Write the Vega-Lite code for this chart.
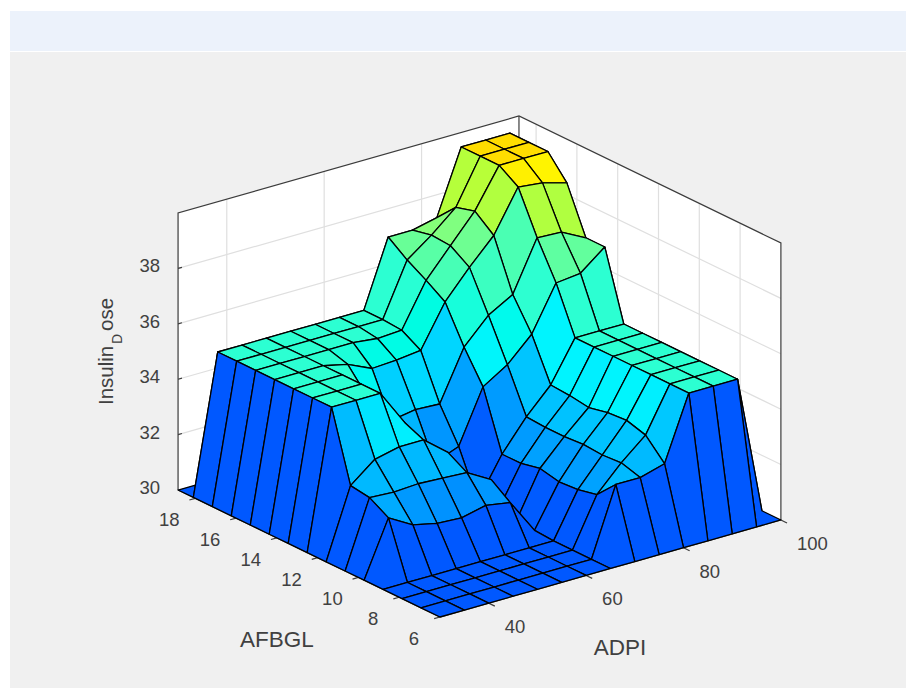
{"$schema":"https://vega.github.io/schema/vega-lite/v6.json","width":906,"height":688,"padding":0,"autosize":{"type":"fit","contains":"padding"},"background":"#ffffff","config":{"view":{"stroke":null},"axis":{"domain":false}},
"datasets":{
"grid":[
{"key":1414,"ADPI":100,"AFBGL":18.84,"Dose":30},{"key":1413,"ADPI":100,"AFBGL":18.09,"Dose":30},{"key":1412,"ADPI":100,"AFBGL":17.16,"Dose":30},{"key":1411,"ADPI":100,"AFBGL":16.23,"Dose":30},{"key":1410,"ADPI":100,"AFBGL":15.3,"Dose":30},{"key":1409,"ADPI":100,"AFBGL":14.37,"Dose":30},{"key":1408,"ADPI":100,"AFBGL":13.44,"Dose":30},{"key":1407,"ADPI":100,"AFBGL":12.51,"Dose":30},{"key":1406,"ADPI":100,"AFBGL":11.58,"Dose":30},{"key":1405,"ADPI":100,"AFBGL":10.65,"Dose":30},{"key":1404,"ADPI":100,"AFBGL":9.72,"Dose":30},{"key":1403,"ADPI":100,"AFBGL":8.79,"Dose":30},{"key":1402,"ADPI":100,"AFBGL":7.86,"Dose":30},{"key":1401,"ADPI":100,"AFBGL":6.93,"Dose":30},{"key":1400,"ADPI":100,"AFBGL":6,"Dose":30},
{"key":1314,"ADPI":95,"AFBGL":18.84,"Dose":30},{"key":1313,"ADPI":95,"AFBGL":18.09,"Dose":39.9},{"key":1312,"ADPI":95,"AFBGL":17.16,"Dose":39.9},{"key":1311,"ADPI":95,"AFBGL":16.23,"Dose":39.9},{"key":1310,"ADPI":95,"AFBGL":15.3,"Dose":39.1},{"key":1309,"ADPI":95,"AFBGL":14.37,"Dose":37.45},{"key":1308,"ADPI":95,"AFBGL":13.44,"Dose":37.45},{"key":1307,"ADPI":95,"AFBGL":12.51,"Dose":35},{"key":1306,"ADPI":95,"AFBGL":11.58,"Dose":35},{"key":1305,"ADPI":95,"AFBGL":10.65,"Dose":35},{"key":1304,"ADPI":95,"AFBGL":9.72,"Dose":35},{"key":1303,"ADPI":95,"AFBGL":8.79,"Dose":35},{"key":1302,"ADPI":95,"AFBGL":7.86,"Dose":35},{"key":1301,"ADPI":95,"AFBGL":6.93,"Dose":35},{"key":1300,"ADPI":95,"AFBGL":6,"Dose":30},
{"key":1214,"ADPI":90,"AFBGL":18.84,"Dose":30},{"key":1213,"ADPI":90,"AFBGL":18.09,"Dose":39.9},{"key":1212,"ADPI":90,"AFBGL":17.16,"Dose":39.9},{"key":1211,"ADPI":90,"AFBGL":16.23,"Dose":39.9},{"key":1210,"ADPI":90,"AFBGL":15.3,"Dose":39.35},{"key":1209,"ADPI":90,"AFBGL":14.37,"Dose":37.9},{"key":1208,"ADPI":90,"AFBGL":13.44,"Dose":36.75},{"key":1207,"ADPI":90,"AFBGL":12.51,"Dose":35},{"key":1206,"ADPI":90,"AFBGL":11.58,"Dose":35},{"key":1205,"ADPI":90,"AFBGL":10.65,"Dose":35},{"key":1204,"ADPI":90,"AFBGL":9.72,"Dose":35},{"key":1203,"ADPI":90,"AFBGL":8.79,"Dose":35},{"key":1202,"ADPI":90,"AFBGL":7.86,"Dose":35},{"key":1201,"ADPI":90,"AFBGL":6.93,"Dose":35},{"key":1200,"ADPI":90,"AFBGL":6,"Dose":30},
{"key":1114,"ADPI":85,"AFBGL":18.84,"Dose":30},{"key":1113,"ADPI":85,"AFBGL":18.09,"Dose":39.9},{"key":1112,"ADPI":85,"AFBGL":17.16,"Dose":39.9},{"key":1111,"ADPI":85,"AFBGL":16.23,"Dose":39.9},{"key":1110,"ADPI":85,"AFBGL":15.3,"Dose":39.45},{"key":1109,"ADPI":85,"AFBGL":14.37,"Dose":37.95},{"key":1108,"ADPI":85,"AFBGL":13.44,"Dose":36.65},{"key":1107,"ADPI":85,"AFBGL":12.51,"Dose":35},{"key":1106,"ADPI":85,"AFBGL":11.58,"Dose":35},{"key":1105,"ADPI":85,"AFBGL":10.65,"Dose":35},{"key":1104,"ADPI":85,"AFBGL":9.72,"Dose":35},{"key":1103,"ADPI":85,"AFBGL":8.79,"Dose":35},{"key":1102,"ADPI":85,"AFBGL":7.86,"Dose":35},{"key":1101,"ADPI":85,"AFBGL":6.93,"Dose":35},{"key":1100,"ADPI":85,"AFBGL":6,"Dose":30},
{"key":1014,"ADPI":80,"AFBGL":18.84,"Dose":30},{"key":1013,"ADPI":80,"AFBGL":18.09,"Dose":37.6},{"key":1012,"ADPI":80,"AFBGL":17.16,"Dose":38.3},{"key":1011,"ADPI":80,"AFBGL":16.23,"Dose":38.5},{"key":1010,"ADPI":80,"AFBGL":15.3,"Dose":37.95},{"key":1009,"ADPI":80,"AFBGL":14.37,"Dose":36.15},{"key":1008,"ADPI":80,"AFBGL":13.44,"Dose":35.05},{"key":1007,"ADPI":80,"AFBGL":12.51,"Dose":33.55},{"key":1006,"ADPI":80,"AFBGL":11.58,"Dose":33.5},{"key":1005,"ADPI":80,"AFBGL":10.65,"Dose":33.4},{"key":1004,"ADPI":80,"AFBGL":9.72,"Dose":33.55},{"key":1003,"ADPI":80,"AFBGL":8.79,"Dose":33.6},{"key":1002,"ADPI":80,"AFBGL":7.86,"Dose":33.4},{"key":1001,"ADPI":80,"AFBGL":6.93,"Dose":32.7},{"key":1000,"ADPI":80,"AFBGL":6,"Dose":30},
{"key":914,"ADPI":75,"AFBGL":18.84,"Dose":30},{"key":913,"ADPI":75,"AFBGL":18.09,"Dose":37.4},{"key":912,"ADPI":75,"AFBGL":17.16,"Dose":37.55},{"key":911,"ADPI":75,"AFBGL":16.23,"Dose":37.5},{"key":910,"ADPI":75,"AFBGL":15.3,"Dose":37.05},{"key":909,"ADPI":75,"AFBGL":14.37,"Dose":35.65},{"key":908,"ADPI":75,"AFBGL":13.44,"Dose":34.2},{"key":907,"ADPI":75,"AFBGL":12.51,"Dose":32.65},{"key":906,"ADPI":75,"AFBGL":11.58,"Dose":32.6},{"key":905,"ADPI":75,"AFBGL":10.65,"Dose":32.6},{"key":904,"ADPI":75,"AFBGL":9.72,"Dose":32.65},{"key":903,"ADPI":75,"AFBGL":8.79,"Dose":32.6},{"key":902,"ADPI":75,"AFBGL":7.86,"Dose":32.65},{"key":901,"ADPI":75,"AFBGL":6.93,"Dose":32.45},{"key":900,"ADPI":75,"AFBGL":6,"Dose":30},
{"key":814,"ADPI":70,"AFBGL":18.84,"Dose":30},{"key":813,"ADPI":70,"AFBGL":18.09,"Dose":37.4},{"key":812,"ADPI":70,"AFBGL":17.16,"Dose":36.9},{"key":811,"ADPI":70,"AFBGL":16.23,"Dose":36.5},{"key":810,"ADPI":70,"AFBGL":15.3,"Dose":36.05},{"key":809,"ADPI":70,"AFBGL":14.37,"Dose":34.75},{"key":808,"ADPI":70,"AFBGL":13.44,"Dose":33.65},{"key":807,"ADPI":70,"AFBGL":12.51,"Dose":31.55},{"key":806,"ADPI":70,"AFBGL":11.58,"Dose":31.55},{"key":805,"ADPI":70,"AFBGL":10.65,"Dose":31.7},{"key":804,"ADPI":70,"AFBGL":9.72,"Dose":31.55},{"key":803,"ADPI":70,"AFBGL":8.79,"Dose":31.6},{"key":802,"ADPI":70,"AFBGL":7.86,"Dose":31.75},{"key":801,"ADPI":70,"AFBGL":6.93,"Dose":32.45},{"key":800,"ADPI":70,"AFBGL":6,"Dose":30},
{"key":714,"ADPI":65,"AFBGL":18.84,"Dose":30},{"key":713,"ADPI":65,"AFBGL":18.09,"Dose":35},{"key":712,"ADPI":65,"AFBGL":17.16,"Dose":35},{"key":711,"ADPI":65,"AFBGL":16.23,"Dose":34.95},{"key":710,"ADPI":65,"AFBGL":15.3,"Dose":34.55},{"key":709,"ADPI":65,"AFBGL":14.37,"Dose":32.95},{"key":708,"ADPI":65,"AFBGL":13.44,"Dose":31.75},{"key":707,"ADPI":65,"AFBGL":12.51,"Dose":30.1},{"key":706,"ADPI":65,"AFBGL":11.58,"Dose":30},{"key":705,"ADPI":65,"AFBGL":10.65,"Dose":30},{"key":704,"ADPI":65,"AFBGL":9.72,"Dose":30.05},{"key":703,"ADPI":65,"AFBGL":8.79,"Dose":30},{"key":702,"ADPI":65,"AFBGL":7.86,"Dose":30},{"key":701,"ADPI":65,"AFBGL":6.93,"Dose":30},{"key":700,"ADPI":65,"AFBGL":6,"Dose":30},
{"key":614,"ADPI":60,"AFBGL":18.84,"Dose":30},{"key":613,"ADPI":60,"AFBGL":18.09,"Dose":35},{"key":612,"ADPI":60,"AFBGL":17.16,"Dose":35},{"key":611,"ADPI":60,"AFBGL":16.23,"Dose":34.9},{"key":610,"ADPI":60,"AFBGL":15.3,"Dose":34.45},{"key":609,"ADPI":60,"AFBGL":14.37,"Dose":33},{"key":608,"ADPI":60,"AFBGL":13.44,"Dose":31.4},{"key":607,"ADPI":60,"AFBGL":12.51,"Dose":30.6},{"key":606,"ADPI":60,"AFBGL":11.58,"Dose":30.3},{"key":605,"ADPI":60,"AFBGL":10.65,"Dose":31.8},{"key":604,"ADPI":60,"AFBGL":9.72,"Dose":31.3},{"key":603,"ADPI":60,"AFBGL":8.79,"Dose":30},{"key":602,"ADPI":60,"AFBGL":7.86,"Dose":30},{"key":601,"ADPI":60,"AFBGL":6.93,"Dose":30},{"key":600,"ADPI":60,"AFBGL":6,"Dose":30},
{"key":514,"ADPI":55,"AFBGL":18.84,"Dose":30},{"key":513,"ADPI":55,"AFBGL":18.09,"Dose":35},{"key":512,"ADPI":55,"AFBGL":17.16,"Dose":35},{"key":511,"ADPI":55,"AFBGL":16.23,"Dose":35},{"key":510,"ADPI":55,"AFBGL":15.3,"Dose":34.4},{"key":509,"ADPI":55,"AFBGL":14.37,"Dose":32.85},{"key":508,"ADPI":55,"AFBGL":13.44,"Dose":32.3},{"key":507,"ADPI":55,"AFBGL":12.51,"Dose":31.2},{"key":506,"ADPI":55,"AFBGL":11.58,"Dose":32.7},{"key":505,"ADPI":55,"AFBGL":10.65,"Dose":32.3},{"key":504,"ADPI":55,"AFBGL":9.72,"Dose":31.45},{"key":503,"ADPI":55,"AFBGL":8.79,"Dose":30},{"key":502,"ADPI":55,"AFBGL":7.86,"Dose":30},{"key":501,"ADPI":55,"AFBGL":6.93,"Dose":30},{"key":500,"ADPI":55,"AFBGL":6,"Dose":30},
{"key":414,"ADPI":50,"AFBGL":18.84,"Dose":30},{"key":413,"ADPI":50,"AFBGL":18.09,"Dose":35},{"key":412,"ADPI":50,"AFBGL":17.16,"Dose":35},{"key":411,"ADPI":50,"AFBGL":16.23,"Dose":35},{"key":410,"ADPI":50,"AFBGL":15.3,"Dose":34.8},{"key":409,"ADPI":50,"AFBGL":14.37,"Dose":34},{"key":408,"ADPI":50,"AFBGL":13.44,"Dose":33.6},{"key":407,"ADPI":50,"AFBGL":12.51,"Dose":33.7},{"key":406,"ADPI":50,"AFBGL":11.58,"Dose":33.4},{"key":405,"ADPI":50,"AFBGL":10.65,"Dose":32.35},{"key":404,"ADPI":50,"AFBGL":9.72,"Dose":31.25},{"key":403,"ADPI":50,"AFBGL":8.79,"Dose":30},{"key":402,"ADPI":50,"AFBGL":7.86,"Dose":30},{"key":401,"ADPI":50,"AFBGL":6.93,"Dose":30},{"key":400,"ADPI":50,"AFBGL":6,"Dose":30},
{"key":314,"ADPI":45,"AFBGL":18.84,"Dose":30},{"key":313,"ADPI":45,"AFBGL":18.09,"Dose":35},{"key":312,"ADPI":45,"AFBGL":17.16,"Dose":35},{"key":311,"ADPI":45,"AFBGL":16.23,"Dose":35},{"key":310,"ADPI":45,"AFBGL":15.3,"Dose":35},{"key":309,"ADPI":45,"AFBGL":14.37,"Dose":35},{"key":308,"ADPI":45,"AFBGL":13.44,"Dose":35},{"key":307,"ADPI":45,"AFBGL":12.51,"Dose":35},{"key":306,"ADPI":45,"AFBGL":11.58,"Dose":33.4},{"key":305,"ADPI":45,"AFBGL":10.65,"Dose":32.4},{"key":304,"ADPI":45,"AFBGL":9.72,"Dose":31.3},{"key":303,"ADPI":45,"AFBGL":8.79,"Dose":30},{"key":302,"ADPI":45,"AFBGL":7.86,"Dose":30},{"key":301,"ADPI":45,"AFBGL":6.93,"Dose":30},{"key":300,"ADPI":45,"AFBGL":6,"Dose":30},
{"key":214,"ADPI":40,"AFBGL":18.84,"Dose":30},{"key":213,"ADPI":40,"AFBGL":18.09,"Dose":35},{"key":212,"ADPI":40,"AFBGL":17.16,"Dose":35},{"key":211,"ADPI":40,"AFBGL":16.23,"Dose":35},{"key":210,"ADPI":40,"AFBGL":15.3,"Dose":35},{"key":209,"ADPI":40,"AFBGL":14.37,"Dose":35},{"key":208,"ADPI":40,"AFBGL":13.44,"Dose":35},{"key":207,"ADPI":40,"AFBGL":12.51,"Dose":35},{"key":206,"ADPI":40,"AFBGL":11.58,"Dose":33.2},{"key":205,"ADPI":40,"AFBGL":10.65,"Dose":32.35},{"key":204,"ADPI":40,"AFBGL":9.72,"Dose":31.5},{"key":203,"ADPI":40,"AFBGL":8.79,"Dose":30},{"key":202,"ADPI":40,"AFBGL":7.86,"Dose":30},{"key":201,"ADPI":40,"AFBGL":6.93,"Dose":30},{"key":200,"ADPI":40,"AFBGL":6,"Dose":30},
{"key":114,"ADPI":35,"AFBGL":18.84,"Dose":30},{"key":113,"ADPI":35,"AFBGL":18.09,"Dose":35},{"key":112,"ADPI":35,"AFBGL":17.16,"Dose":35},{"key":111,"ADPI":35,"AFBGL":16.23,"Dose":35},{"key":110,"ADPI":35,"AFBGL":15.3,"Dose":35},{"key":109,"ADPI":35,"AFBGL":14.37,"Dose":35},{"key":108,"ADPI":35,"AFBGL":13.44,"Dose":35},{"key":107,"ADPI":35,"AFBGL":12.51,"Dose":35},{"key":106,"ADPI":35,"AFBGL":11.58,"Dose":32.5},{"key":105,"ADPI":35,"AFBGL":10.65,"Dose":32.4},{"key":104,"ADPI":35,"AFBGL":9.72,"Dose":32},{"key":103,"ADPI":35,"AFBGL":8.79,"Dose":30},{"key":102,"ADPI":35,"AFBGL":7.86,"Dose":30},{"key":101,"ADPI":35,"AFBGL":6.93,"Dose":30},{"key":100,"ADPI":35,"AFBGL":6,"Dose":30},
{"key":14,"ADPI":30,"AFBGL":18.84,"Dose":30},{"key":13,"ADPI":30,"AFBGL":18.09,"Dose":30},{"key":12,"ADPI":30,"AFBGL":17.16,"Dose":30},{"key":11,"ADPI":30,"AFBGL":16.23,"Dose":30},{"key":10,"ADPI":30,"AFBGL":15.3,"Dose":30},{"key":9,"ADPI":30,"AFBGL":14.37,"Dose":30},{"key":8,"ADPI":30,"AFBGL":13.44,"Dose":30},{"key":7,"ADPI":30,"AFBGL":12.51,"Dose":30},{"key":6,"ADPI":30,"AFBGL":11.58,"Dose":30},{"key":5,"ADPI":30,"AFBGL":10.65,"Dose":30},{"key":4,"ADPI":30,"AFBGL":9.72,"Dose":30},{"key":3,"ADPI":30,"AFBGL":8.79,"Dose":30},{"key":2,"ADPI":30,"AFBGL":7.86,"Dose":30},{"key":1,"ADPI":30,"AFBGL":6.93,"Dose":30},{"key":0,"ADPI":30,"AFBGL":6,"Dose":30}
],
"walls":[
{"id":"floor","n":0,"ADPI":30,"AFBGL":18.84,"Dose":30},{"id":"floor","n":1,"ADPI":100,"AFBGL":18.84,"Dose":30},{"id":"floor","n":2,"ADPI":100,"AFBGL":6,"Dose":30},{"id":"floor","n":3,"ADPI":30,"AFBGL":6,"Dose":30},
{"id":"left","n":0,"ADPI":30,"AFBGL":18.84,"Dose":30},{"id":"left","n":1,"ADPI":100,"AFBGL":18.84,"Dose":30},{"id":"left","n":2,"ADPI":100,"AFBGL":18.84,"Dose":40},{"id":"left","n":3,"ADPI":30,"AFBGL":18.84,"Dose":40},
{"id":"right","n":0,"ADPI":100,"AFBGL":18.84,"Dose":30},{"id":"right","n":1,"ADPI":100,"AFBGL":6,"Dose":30},{"id":"right","n":2,"ADPI":100,"AFBGL":6,"Dose":40},{"id":"right","n":3,"ADPI":100,"AFBGL":18.84,"Dose":40}
],
"gridlines":[
{"id":"z32","n":0,"ADPI":30,"AFBGL":18.84,"Dose":32},{"id":"z32","n":1,"ADPI":100,"AFBGL":18.84,"Dose":32},{"id":"z32","n":2,"ADPI":100,"AFBGL":6,"Dose":32},
{"id":"z34","n":0,"ADPI":30,"AFBGL":18.84,"Dose":34},{"id":"z34","n":1,"ADPI":100,"AFBGL":18.84,"Dose":34},{"id":"z34","n":2,"ADPI":100,"AFBGL":6,"Dose":34},
{"id":"z36","n":0,"ADPI":30,"AFBGL":18.84,"Dose":36},{"id":"z36","n":1,"ADPI":100,"AFBGL":18.84,"Dose":36},{"id":"z36","n":2,"ADPI":100,"AFBGL":6,"Dose":36},
{"id":"z38","n":0,"ADPI":30,"AFBGL":18.84,"Dose":38},{"id":"z38","n":1,"ADPI":100,"AFBGL":18.84,"Dose":38},{"id":"z38","n":2,"ADPI":100,"AFBGL":6,"Dose":38},
{"id":"a40","n":0,"ADPI":40,"AFBGL":18.84,"Dose":30},{"id":"a40","n":1,"ADPI":40,"AFBGL":18.84,"Dose":40},
{"id":"a60","n":0,"ADPI":60,"AFBGL":18.84,"Dose":30},{"id":"a60","n":1,"ADPI":60,"AFBGL":18.84,"Dose":40},
{"id":"a80","n":0,"ADPI":80,"AFBGL":18.84,"Dose":30},{"id":"a80","n":1,"ADPI":80,"AFBGL":18.84,"Dose":40},
{"id":"g8","n":0,"ADPI":100,"AFBGL":8,"Dose":30},{"id":"g8","n":1,"ADPI":100,"AFBGL":8,"Dose":40},
{"id":"g10","n":0,"ADPI":100,"AFBGL":10,"Dose":30},{"id":"g10","n":1,"ADPI":100,"AFBGL":10,"Dose":40},
{"id":"g12","n":0,"ADPI":100,"AFBGL":12,"Dose":30},{"id":"g12","n":1,"ADPI":100,"AFBGL":12,"Dose":40},
{"id":"g14","n":0,"ADPI":100,"AFBGL":14,"Dose":30},{"id":"g14","n":1,"ADPI":100,"AFBGL":14,"Dose":40},
{"id":"g16","n":0,"ADPI":100,"AFBGL":16,"Dose":30},{"id":"g16","n":1,"ADPI":100,"AFBGL":16,"Dose":40},
{"id":"g18","n":0,"ADPI":100,"AFBGL":18,"Dose":30},{"id":"g18","n":1,"ADPI":100,"AFBGL":18,"Dose":40}
],
"edges":[
{"id":"top","n":0,"ADPI":30,"AFBGL":18.84,"Dose":30},{"id":"top","n":1,"ADPI":30,"AFBGL":18.84,"Dose":40},{"id":"top","n":2,"ADPI":100,"AFBGL":18.84,"Dose":40},{"id":"top","n":3,"ADPI":100,"AFBGL":6,"Dose":40},{"id":"top","n":4,"ADPI":100,"AFBGL":6,"Dose":30},
{"id":"back","n":0,"ADPI":100,"AFBGL":18.84,"Dose":40},{"id":"back","n":1,"ADPI":100,"AFBGL":18.84,"Dose":30},
{"id":"floor","n":0,"ADPI":30,"AFBGL":18.84,"Dose":30},{"id":"floor","n":1,"ADPI":30,"AFBGL":6,"Dose":30},{"id":"floor","n":2,"ADPI":100,"AFBGL":6,"Dose":30},
{"id":"ta40","n":0,"ADPI":40,"AFBGL":6,"Dose":30},{"id":"ta40","n":1,"ADPI":40,"AFBGL":5.7,"Dose":30},
{"id":"ta60","n":0,"ADPI":60,"AFBGL":6,"Dose":30},{"id":"ta60","n":1,"ADPI":60,"AFBGL":5.7,"Dose":30},
{"id":"ta80","n":0,"ADPI":80,"AFBGL":6,"Dose":30},{"id":"ta80","n":1,"ADPI":80,"AFBGL":5.7,"Dose":30},
{"id":"ta100","n":0,"ADPI":100,"AFBGL":6,"Dose":30},{"id":"ta100","n":1,"ADPI":100,"AFBGL":5.7,"Dose":30},
{"id":"tg6","n":0,"ADPI":30,"AFBGL":6,"Dose":30},{"id":"tg6","n":1,"ADPI":28.8,"AFBGL":6,"Dose":30},
{"id":"tg8","n":0,"ADPI":30,"AFBGL":8,"Dose":30},{"id":"tg8","n":1,"ADPI":28.8,"AFBGL":8,"Dose":30},
{"id":"tg10","n":0,"ADPI":30,"AFBGL":10,"Dose":30},{"id":"tg10","n":1,"ADPI":28.8,"AFBGL":10,"Dose":30},
{"id":"tg12","n":0,"ADPI":30,"AFBGL":12,"Dose":30},{"id":"tg12","n":1,"ADPI":28.8,"AFBGL":12,"Dose":30},
{"id":"tg14","n":0,"ADPI":30,"AFBGL":14,"Dose":30},{"id":"tg14","n":1,"ADPI":28.8,"AFBGL":14,"Dose":30},
{"id":"tg16","n":0,"ADPI":30,"AFBGL":16,"Dose":30},{"id":"tg16","n":1,"ADPI":28.8,"AFBGL":16,"Dose":30},
{"id":"tg18","n":0,"ADPI":30,"AFBGL":18,"Dose":30},{"id":"tg18","n":1,"ADPI":28.8,"AFBGL":18,"Dose":30},
{"id":"tz32","n":0,"ADPI":30,"AFBGL":18.84,"Dose":32},{"id":"tz32","n":1,"ADPI":30.8,"AFBGL":18.84,"Dose":32},
{"id":"tz34","n":0,"ADPI":30,"AFBGL":18.84,"Dose":34},{"id":"tz34","n":1,"ADPI":30.8,"AFBGL":18.84,"Dose":34},
{"id":"tz36","n":0,"ADPI":30,"AFBGL":18.84,"Dose":36},{"id":"tz36","n":1,"ADPI":30.8,"AFBGL":18.84,"Dose":36},
{"id":"tz38","n":0,"ADPI":30,"AFBGL":18.84,"Dose":38},{"id":"tz38","n":1,"ADPI":30.8,"AFBGL":18.84,"Dose":38}
]},
"encoding":{"x":{"field":"sx","type":"quantitative","axis":null,"scale":{"domain":[0,906],"nice":false,"zero":false}},"y":{"field":"sy","type":"quantitative","axis":null,"scale":{"domain":[0,688],"reverse":true,"nice":false,"zero":false}}},
"layer":[
{"data":{"values":[{"panel":"figure"}]},"mark":{"type":"rect","fill":"#f0f0f0"},"encoding":{"x":{"value":10},"x2":{"value":906},"y":{"value":52},"y2":{"value":688}}},
{"data":{"values":[{"panel":"header"}]},"mark":{"type":"rect","fill":"#ecf2fb"},"encoding":{"x":{"value":10},"x2":{"value":906},"y":{"value":11},"y2":{"value":51}}},
{"data":{"name":"walls"},"transform":[{"calculate":"440+4.87*(datum.ADPI-30)-20.4*(datum.AFBGL-6)","as":"sx"},{"calculate":"617-1.386*(datum.ADPI-30)-9.89*(datum.AFBGL-6)-27.7*(datum.Dose-30)","as":"sy"}],"mark":{"type":"line","fill":"#ffffff","strokeWidth":0},"encoding":{"detail":{"field":"id"},"order":{"field":"n"}}},
{"data":{"name":"gridlines"},"transform":[{"calculate":"440+4.87*(datum.ADPI-30)-20.4*(datum.AFBGL-6)","as":"sx"},{"calculate":"617-1.386*(datum.ADPI-30)-9.89*(datum.AFBGL-6)-27.7*(datum.Dose-30)","as":"sy"}],"mark":{"type":"line","stroke":"#dfdfdf","strokeWidth":1.2},"encoding":{"detail":{"field":"id"},"order":{"field":"n"}}},
{"data":{"name":"edges"},"transform":[{"calculate":"440+4.87*(datum.ADPI-30)-20.4*(datum.AFBGL-6)","as":"sx"},{"calculate":"617-1.386*(datum.ADPI-30)-9.89*(datum.AFBGL-6)-27.7*(datum.Dose-30)","as":"sy"}],"mark":{"type":"line","stroke":"#3c3c3c","strokeWidth":1.2},"encoding":{"detail":{"field":"id"},"order":{"field":"n"}}},
{"data":{"name":"grid"},"transform":[
{"filter":"datum.key%100<14 && datum.key<1400"},
{"calculate":"datum.Dose","as":"cellDose"},
{"calculate":"datum.key","as":"cell"},
{"calculate":"[0,1,2,3,4]","as":"corner"},
{"flatten":["corner"]},
{"calculate":"datum.cell+(datum.corner==1||datum.corner==2?100:0)+(datum.corner==2||datum.corner==3?1:0)","as":"vertex"},
{"lookup":"vertex","from":{"data":{"name":"grid"},"key":"key","fields":["ADPI","AFBGL","Dose"]},"as":["vA","vG","vD"]},
{"calculate":"440+4.87*(datum.vA-30)-20.4*(datum.vG-6)","as":"sx"},
{"calculate":"617-1.386*(datum.vA-30)-9.89*(datum.vG-6)-27.7*(datum.vD-30)","as":"sy"}
],"mark":{"type":"line","stroke":"#000000","strokeWidth":1.3,"strokeJoin":"round"},"encoding":{"detail":{"field":"cell"},"order":{"field":"corner"},"fill":{"field":"cellDose","type":"quantitative","legend":null,"scale":{"type":"linear","domain":[30,32.5,33.5,35,36,37.5,37.9,38.5,39.1,39.9],"range":["#0058ff","#00bcff","#00f4ff","#2cffd2","#45ffb8","#80ff80","#b0ff40","#b8ff38","#ffff00","#ffdd00"]}}}},
{"data":{"values":[{"t":"40","ADPI":40},{"t":"60","ADPI":60},{"t":"80","ADPI":80},{"t":"100","ADPI":100}]},"transform":[{"calculate":"440+4.87*(datum.ADPI-30)","as":"sx"},{"calculate":"617-1.386*(datum.ADPI-30)","as":"sy"}],"mark":{"type":"text","font":"Liberation Sans","fontSize":18.5,"fill":"#404040","align":"left","baseline":"middle","dx":16,"dy":24},"encoding":{"text":{"field":"t"}}},
{"data":{"values":[{"t":"6","AFBGL":6},{"t":"8","AFBGL":8},{"t":"10","AFBGL":10},{"t":"12","AFBGL":12},{"t":"14","AFBGL":14},{"t":"16","AFBGL":16},{"t":"18","AFBGL":18}]},"transform":[{"calculate":"440-20.4*(datum.AFBGL-6)","as":"sx"},{"calculate":"617-9.89*(datum.AFBGL-6)","as":"sy"}],"mark":{"type":"text","font":"Liberation Sans","fontSize":18.5,"fill":"#404040","align":"center","baseline":"middle","dx":-26,"dy":22},"encoding":{"text":{"field":"t"}}},
{"data":{"values":[{"t":"30","Dose":30},{"t":"32","Dose":32},{"t":"34","Dose":34},{"t":"36","Dose":36},{"t":"38","Dose":38}]},"transform":[{"calculate":"178","as":"sx"},{"calculate":"490-27.7*(datum.Dose-30)","as":"sy"}],"mark":{"type":"text","font":"Liberation Sans","fontSize":18.5,"fill":"#404040","align":"right","baseline":"middle","dx":-18,"dy":-2},"encoding":{"text":{"field":"t"}}},
{"data":{"values":[{"t":"ADPI"}]},"mark":{"type":"text","font":"Liberation Sans","fontSize":22.5,"fill":"#404040","align":"center","baseline":"middle"},"encoding":{"x":{"value":620},"y":{"value":648},"text":{"field":"t"}}},
{"data":{"values":[{"t":"AFBGL"}]},"mark":{"type":"text","font":"Liberation Sans","fontSize":22.5,"fill":"#404040","align":"center","baseline":"middle"},"encoding":{"x":{"value":277},"y":{"value":640},"text":{"field":"t"}}},
{"data":{"values":[{"t":"Insulin"}]},"mark":{"type":"text","font":"Liberation Sans","fontSize":20.5,"fill":"#404040","align":"left","baseline":"middle","angle":270},"encoding":{"x":{"value":107},"y":{"value":405},"text":{"field":"t"}}},
{"data":{"values":[{"t":"D"}]},"mark":{"type":"text","font":"Liberation Sans","fontSize":14,"fill":"#404040","align":"left","baseline":"middle","angle":270},"encoding":{"x":{"value":118},"y":{"value":344},"text":{"field":"t"}}},
{"data":{"values":[{"t":"ose"}]},"mark":{"type":"text","font":"Liberation Sans","fontSize":20.5,"fill":"#404040","align":"left","baseline":"middle","angle":270},"encoding":{"x":{"value":107},"y":{"value":331},"text":{"field":"t"}}}
]}
